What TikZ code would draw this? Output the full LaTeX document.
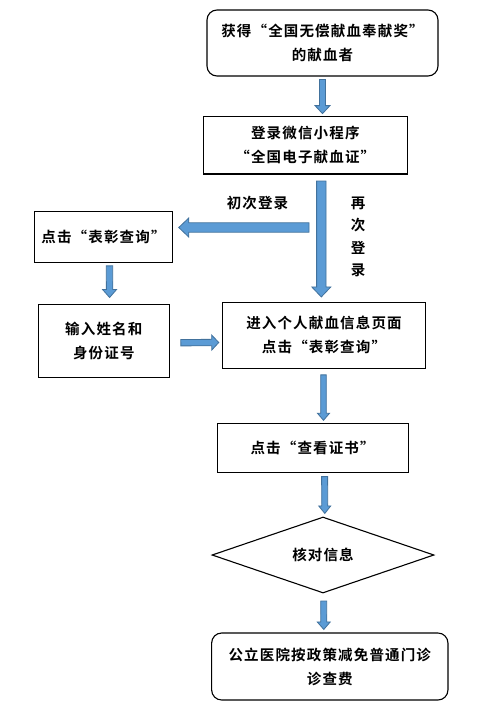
\documentclass[tikz,border=0pt]{standalone}
\usepackage{fontspec}
\setmainfont{Noto Sans CJK SC}[BoldFont={* Bold},LetterSpace=8]
\usetikzlibrary{calc,shapes.geometric}
\definecolor{arrfill}{HTML}{5B9BD5}
\definecolor{arrline}{HTML}{41719C}
\newcommand\barrow[5]{%
  \coordinate (ba) at #1; \coordinate (bb) at #2;
  \coordinate (bh) at ($(bb)!#5!(ba)$);
  \draw[blockarrow] ($(ba)!#3!90:(bb)$) -- ($(bh)!#3!90:(bb)$) -- ($(bh)!#4!90:(bb)$) -- (bb)
    -- ($(bh)!#4!-90:(bb)$) -- ($(bh)!#3!-90:(bb)$) -- ($(ba)!#3!-90:(bb)$) -- cycle;}
\begin{document}
\begin{tikzpicture}[x=1pt,y=-1pt,
  txt/.style={font=\bfseries\fontsize{14.5pt}{24pt}\selectfont, align=center, inner sep=0pt},
  box/.style={txt, draw, line width=1.1pt},
  rbox/.style={box, rounded corners=10pt},
  blockarrow/.style={fill=arrfill, draw=arrline, line width=0.8pt, line join=miter}]
\useasboundingbox (0,0) rectangle (489,718);
\fill[white] (0,0) rectangle (489,718);

\node[rbox, minimum width=231pt, minimum height=66pt] (award) at (322.5,43) {获得“全国无偿献血奉献奖”\\的献血者};
\node[box, minimum width=204pt, minimum height=57.5pt] (login) at (305.3,145.2) {登录微信小程序\\“全国电子献血证”};
\node[box, minimum width=138.4pt, minimum height=50.6pt] (click1) at (103.5,237) {点击“表彰查询”};
\node[box, minimum width=131pt, minimum height=73.3pt] (input) at (103.8,340.7) {输入姓名和\\身份证号};
\node[box, minimum width=203.4pt, minimum height=66pt] (enter) at (324,335.3) {进入个人献血信息页面\\点击“表彰查询”};
\node[box, minimum width=191pt, minimum height=48.7pt] (cert) at (312.6,447.7) {点击“查看证书”};
\node[txt, draw, line width=1.1pt, shape=diamond, minimum width=222pt, minimum height=76pt] (check) at (323,555) {核对信息};
\node[rbox, minimum width=236.3pt, minimum height=67pt] (final) at (329.8,666.5) {公立医院按政策减免普通门诊\\诊查费};

\node[txt] (first) at (257.5,203) {初次登录};
\node[txt, font=\bfseries\fontsize{14.5pt}{22.5pt}\selectfont] (again) at (358,237) {再\\次\\登\\录};

\coordinate (fork) at (309,227.5);

\barrow{($(award.south)+(0,3)$)}{($(login.north -| award.south)+(0,-2.3)$)}{3pt}{7.5pt}{8pt}
\barrow{($(login.south)+(16,6.5)$)}{($(enter.north)+(-2.7,-4.8)$)}{4.7pt}{9.5pt}{10pt}
\barrow{(fork)}{($(click1.east |- fork)+(5.5,0)$)}{4.7pt}{9.5pt}{10pt}
\barrow{($(click1.south)+(6,3)$)}{($(input.north)+(5.8,-6)$)}{3.2pt}{7pt}{8pt}
\barrow{($(input.east)+(11,2)$)}{($(enter.west)+(-3,7.2)$)}{3.2pt}{7.5pt}{7pt}
\barrow{($(enter.south)+(-0.5,6)$)}{($(cert.north -| enter.south)+(-0.5,-2.5)$)}{2.8pt}{6pt}{7pt}
\barrow{($(cert.south)+(12,4)$)}{($(check.north)+(1.8,-3)$)}{3pt}{6pt}{7.5pt}
\barrow{($(check.south)+(0.7,7.5)$)}{($(final.north)+(-6,-3)$)}{3pt}{6.5pt}{7.5pt}
\end{tikzpicture}
\end{document}
